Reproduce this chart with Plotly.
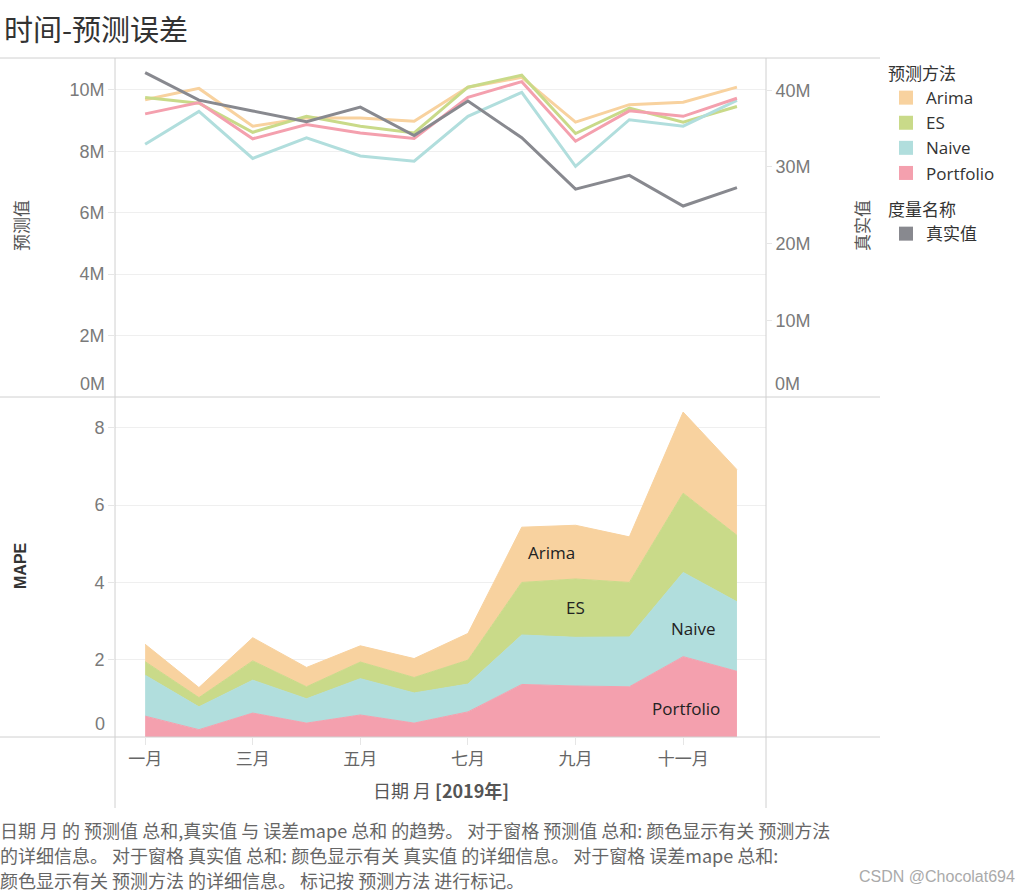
import plotly.graph_objects as go

# 2019 monthly data, values in millions for the top pane
months = ['一月', '二月', '三月', '四月', '五月', '六月',
          '七月', '八月', '九月', '十月', '十一月', '十二月']
month_no = list(range(1, 13))

pred_arima = [9.68, 10.05, 8.82, 9.09, 9.09, 8.98, 10.09, 10.41, 8.95, 9.52, 9.60, 10.09]
pred_es = [9.75, 9.57, 8.62, 9.14, 8.82, 8.60, 10.09, 10.48, 8.58, 9.41, 8.95, 9.46]
pred_naive = [8.23, 9.30, 7.77, 8.44, 7.85, 7.68, 9.14, 9.92, 7.51, 9.03, 8.82, 9.66]
pred_portfolio = [9.22, 9.59, 8.41, 8.87, 8.60, 8.42, 9.76, 10.27, 8.33, 9.32, 9.14, 9.73]
actual = [42.3, 38.7, 37.3, 35.9, 37.8, 34.1, 38.6, 33.8, 27.1, 28.9, 24.9, 27.3]

mape_portfolio = [0.54, 0.19, 0.62, 0.36, 0.57, 0.36, 0.65, 1.36, 1.32, 1.30, 2.08, 1.70]
mape_naive = [1.06, 0.59, 0.85, 0.63, 0.94, 0.78, 0.72, 1.28, 1.26, 1.29, 2.18, 1.80]
mape_es = [0.35, 0.24, 0.50, 0.31, 0.43, 0.40, 0.62, 1.36, 1.51, 1.41, 2.05, 1.72]
mape_arima = [0.45, 0.26, 0.60, 0.50, 0.42, 0.49, 0.69, 1.43, 1.39, 1.18, 2.10, 1.70]

left_ticks = [2, 4, 6, 8, 10]
right_ticks = [10, 20, 30, 40]
mape_ticks = [2, 4, 6, 8]

methods = ['Arima', 'ES', 'Naive', 'Portfolio']
colors = {
    'Arima': '#F8D29F',
    'ES': '#C9DA89',
    'Naive': '#B1DEDD',
    'Portfolio': '#F4A0AE',
    '真实值': '#88898F',
}

LATIN = '"Open Sans", "Noto Sans CJK SC", sans-serif'
ARIAL = '"Liberation Sans", Arial, sans-serif'
CJK = '"Noto Sans CJK SC", sans-serif'
GRID = '#EFEFEF'
BORDER = '#D0D0D0'
TICKC = '#E6E6E6'

fig = go.Figure()

# top pane: predictions (left axis) and actual (right axis)
for name, vals in zip(methods, [pred_arima, pred_es, pred_naive, pred_portfolio]):
    fig.add_trace(go.Scatter(
        x=month_no, y=vals, mode='lines', name=name, showlegend=False,
        line=dict(color=colors[name], width=3), xaxis='x', yaxis='y'))

fig.add_trace(go.Scatter(
    x=month_no, y=actual, mode='lines', name='真实值', showlegend=False,
    line=dict(color=colors['真实值'], width=3), xaxis='x', yaxis='y2'))

# bottom pane: stacked MAPE areas
for name, vals in [('Portfolio', mape_portfolio), ('Naive', mape_naive),
                   ('ES', mape_es), ('Arima', mape_arima)]:
    fig.add_trace(go.Scatter(
        x=month_no, y=vals, mode='lines', name=name, stackgroup='mape',
        line=dict(color=colors[name], width=1), fillcolor=colors[name],
        xaxis='x', yaxis='y3', showlegend=False))

# legend entries with square swatches like the Tableau legend
for name in methods:
    fig.add_trace(go.Scatter(x=[None], y=[None], mode='markers', name=name,
                             marker=dict(symbol='square', size=14, color=colors[name]),
                             legend='legend', xaxis='x', yaxis='y'))
fig.add_trace(go.Scatter(x=[None], y=[None], mode='markers', name='真实值',
                         marker=dict(symbol='square', size=14, color=colors['真实值']),
                         legend='legend2', xaxis='x', yaxis='y2'))

W, H = 1032, 892
ml, mr, mt, mb = 115, 266, 58, 155
pw, ph = W - ml - mr, H - mt - mb


def px(x):
    # x in pixels -> paper
    return (x - ml) / pw


def py(y):
    # y in pixels -> paper
    return (H - mb - y) / ph


split = py(397)

tick_font = dict(family=ARIAL, size=18, color='#7A7A7A')

fig.update_layout(
    width=W, height=H,
    margin=dict(l=ml, r=mr, t=mt, b=mb),
    paper_bgcolor='white', plot_bgcolor='white',
    font=dict(family=LATIN, color='#333'),
    xaxis=dict(domain=[0, 1], anchor='y3', range=[0.44, 12.54],
               tickvals=month_no[::2], ticktext=months[::2],
               tickfont=dict(family=CJK, size=17, color='#666'),
               showgrid=False, zeroline=False, showline=False,
               ticks='outside', ticklen=7, tickcolor=TICKC, ticklabelstandoff=0),
    yaxis=dict(domain=[split, 1], range=[0, 11.04], tickvals=left_ticks,
               ticktext=[f'{v}M' for v in left_ticks], tickfont=tick_font,
               gridcolor=GRID, zeroline=False, showline=False,
               ticks='outside', ticklen=6, tickcolor=TICKC),
    yaxis2=dict(domain=[split, 1], overlaying='y', side='right', range=[0, 44.2],
                tickvals=right_ticks, ticktext=[f'{v}M' for v in right_ticks],
                tickfont=tick_font, showgrid=False, zeroline=False, showline=False,
                ticks='outside', ticklen=5, tickcolor=TICKC),
    yaxis3=dict(domain=[0, split], range=[0, 8.8], tickvals=mape_ticks,
                tickfont=tick_font, gridcolor=GRID, zeroline=False,
                showline=False, ticks='outside', ticklen=6, tickcolor=TICKC),
    legend=dict(title=dict(text='预测方法', font=dict(family=CJK, size=17, color='#333')),
                traceorder='normal', x=px(886), xanchor='left', y=py(58), yanchor='top',
                font=dict(family=LATIN, size=17, color='#333'),
                bgcolor='rgba(0,0,0,0)', itemwidth=30),
    legend2=dict(title=dict(text='度量名称', font=dict(family=CJK, size=17, color='#333')),
                 x=px(886), xanchor='left', y=py(194), yanchor='top',
                 font=dict(family=CJK, size=17, color='#333'),
                 bgcolor='rgba(0,0,0,0)', itemwidth=30),
)

# frame lines of the Tableau panes
shapes = []
for y in (58, 397, 737):
    shapes.append(dict(type='line', xref='paper', yref='paper',
                       x0=px(0), x1=px(880), y0=py(y), y1=py(y),
                       line=dict(color=BORDER, width=1)))
for x in (115, 766):
    shapes.append(dict(type='line', xref='paper', yref='paper',
                       x0=px(x), x1=px(x), y0=py(58), y1=py(808),
                       line=dict(color=BORDER, width=1)))
fig.update_layout(shapes=shapes)

ann = []


def note(text, x, y, size, color, family=CJK, xanchor='center', angle=0):
    ann.append(dict(text=text, x=px(x), y=py(y), xref='paper', yref='paper',
                    xanchor=xanchor, yanchor='middle', textangle=angle,
                    showarrow=False, font=dict(family=family, size=size, color=color)))


note('时间-预测误差', 2, 28, 29, '#333', xanchor='left')

# axis titles
note('预测值', 20, 226, 17, '#555', angle=-90)
note('真实值', 861, 226, 17, '#555', angle=-90)
note('<b>MAPE</b>', 20, 566, 16, '#333', family=ARIAL, angle=-90)
note('日期 月 <b>[2019年]</b>', 441, 790, 18, '#555')

# zero labels sit just inside each pane, as Tableau draws them
for yref, xpos, anchor, txt in [('y', 107, 'right', '0M'), ('y2', 773, 'left', '0M'),
                                ('y3', 107, 'right', '0')]:
    ann.append(dict(text=txt, x=px(xpos), y=0, xref='paper', yref=yref,
                    xanchor=anchor, yanchor='middle', yshift=13, showarrow=False,
                    font=tick_font))

# mark labels in the stacked areas
for text, xv, yv in [('Arima', 8.56, 4.78), ('ES', 9.0, 3.34),
                     ('Naive', 11.2, 2.82), ('Portfolio', 11.06, 0.75)]:
    ann.append(dict(text=text, x=xv, y=yv, xref='x', yref='y3', showarrow=False,
                    font=dict(family=LATIN, size=17, color='#222')))

caption = [
    '日期 月 的 预测值 总和,真实值 与 误差mape 总和 的趋势。 对于窗格 预测值 总和: 颜色显示有关 预测方法',
    '的详细信息。 对于窗格 真实值 总和: 颜色显示有关 真实值 的详细信息。 对于窗格 误差mape 总和:',
    '颜色显示有关 预测方法 的详细信息。 标记按 预测方法 进行标记。',
]
for i, line in enumerate(caption):
    note(line, -2, 830 + 25 * i, 18, '#666', xanchor='left')

note('CSDN @Chocolat694', 1017, 876, 16, '#aaa', family=ARIAL, xanchor='right')

fig.update_layout(annotations=ann)

# drop the default page margin so the figure fills the window exactly
fig.write_html('out.html', config={'displayModeBar': False},
               post_script="document.body.style.margin = '0px';")
